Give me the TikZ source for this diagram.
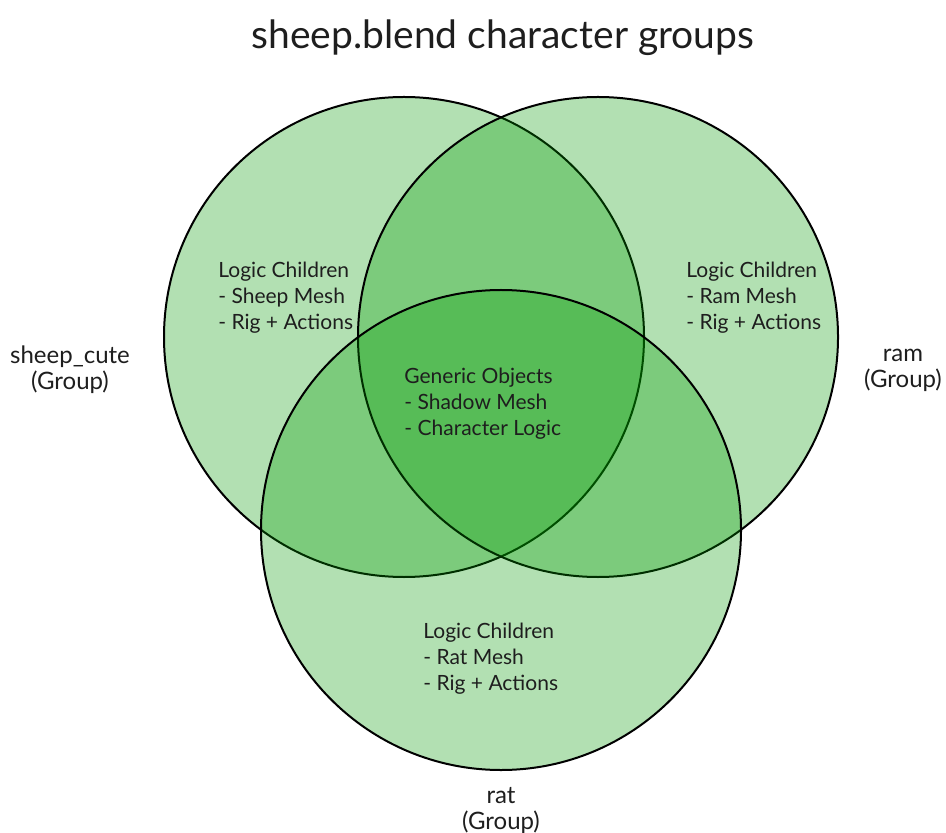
\documentclass[tikz,border=0pt]{standalone}
\usepackage{fontspec}
\setmainfont{Lato}
\usepackage{xcolor}
\usepackage{tikz}
\usetikzlibrary{positioning}

\definecolor{setgreen}{RGB}{0,153,0}
\definecolor{inkgray}{RGB}{30,30,30}

\begin{document}
\begin{tikzpicture}[
  x=0.5pt, y=-0.5pt,
  set/.style={circle, draw=black, line width=1pt, fill=setgreen, fill opacity=0.3,
              draw opacity=1, minimum size=240pt, inner sep=0pt},
  lbl/.style={align=left, anchor=west, inner sep=0pt, text=inkgray,
              font=\fontsize{10.5}{13}\selectfont},
  grp/.style={align=center, inner sep=0pt, text=inkgray,
              font=\fontsize{12}{13}\selectfont},
  ttl/.style={inner sep=0pt, text=inkgray, font=\fontsize{19.5}{21}\selectfont}
]
  \useasboundingbox (0,0) rectangle (946,833);

  \node[ttl] (title) at (503,38) {sheep.blend character groups};

  \node[set] (sheep) at (404,337) {};
  \node[set] (ram) at (598,337) {};
  \node[set] (rat) at (501,530) {};

  \node[lbl] (sheepkids) at (218,298) {Logic Children\\- Sheep Mesh\\- Rig + Actions};
  \node[lbl] (ramkids) at (686,298) {Logic Children\\- Ram Mesh\\- Rig + Actions};
  \node[lbl] (generic) at (404,404) {Generic Objects\\- Shadow Mesh\\- Character Logic};
  \node[lbl] (ratkids) at (423,659) {Logic Children\\- Rat Mesh\\- Rig + Actions};

  \node[grp] (sheepgrp) at (70,370) {sheep\_cute\\(Group)};
  \node[grp] (ramgrp) at (903,370) {ram\\(Group)};
  \node[grp] (ratgrp) at (501,810) {rat\\(Group)};
\end{tikzpicture}
\end{document}
